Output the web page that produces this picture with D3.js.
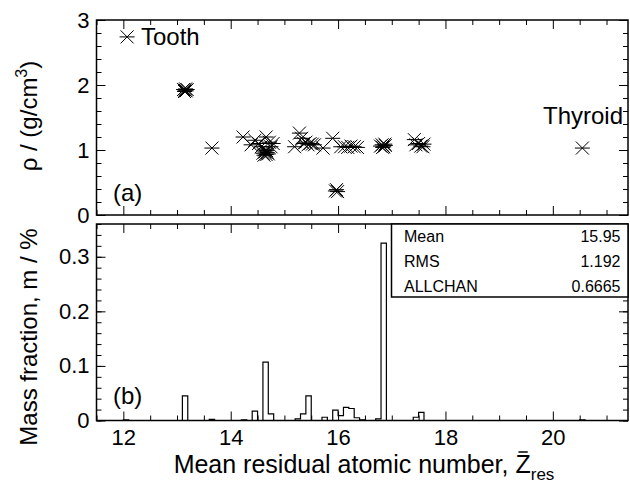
<!DOCTYPE html>
<html>
<head>
<meta charset="utf-8">
<script src="https://cdn.jsdelivr.net/npm/d3@7"></script>
<style>
  body { margin: 0; background: #fff; }
  text { font-family: "Liberation Sans", Arial, sans-serif; fill: #000; }
</style>
</head>
<body>
<svg id="chart" width="630" height="492"></svg>
<script>
// scatter (a): mean residual Z vs density
var zPoints = [12.07, 13.12, 13.15, 13.17, 13.19, 13.14, 13.16, 13.65,
  14.23, 14.38, 14.45, 14.52, 14.57, 14.60, 14.62, 14.64, 14.66, 14.68, 14.70, 14.63, 14.67,
  14.66, 14.72, 14.79, 14.75, 15.19, 15.28, 15.32, 15.36, 15.40, 15.44, 15.48, 15.52, 15.56,
  15.72, 15.90, 15.95, 15.97, 15.99, 16.05, 16.12, 16.18, 16.24, 16.30, 16.36,
  16.79, 16.82, 16.85, 16.88, 16.83, 16.87, 17.42, 17.45, 17.50, 17.54, 17.58, 17.60, 20.55]
var rhoPoints = [2.74, 1.93, 1.92, 1.91, 1.93, 1.90, 1.94, 1.03,
  1.20, 1.08, 1.15, 1.10, 1.05, 0.95, 0.92, 0.97, 0.93, 0.96, 0.94, 1.00, 0.99,
  1.20, 1.12, 1.10, 1.05, 1.05, 1.26, 1.18, 1.10, 1.12, 1.08, 1.10, 1.09, 1.08,
  1.03, 1.18, 0.37, 0.39, 0.36, 1.05, 1.05, 1.04, 1.06, 1.05, 1.04,
  1.06, 1.08, 1.05, 1.07, 1.04, 1.09, 1.16, 1.08, 1.10, 1.06, 1.05, 1.09, 1.03]

// histogram (b): bin low edges (width 0.1) and mass fraction
var binLow = [12.0, 13.1, 13.6, 14.2, 14.4, 14.6, 14.7, 15.2, 15.3, 15.4, 15.7, 15.9,
  16.0, 16.1, 16.2, 16.3, 16.4, 16.7, 16.8, 17.4, 17.5, 20.5]
var massFrac = [0.001, 0.045, 0.002, 0.001, 0.017, 0.107, 0.012, 0.003, 0.012, 0.045, 0.006, 0.019,
  0.009, 0.024, 0.022, 0.005, 0.001, 0.003, 0.325, 0.006, 0.015, 0.001]
var binWidth = 0.1

var statNames = ["Mean", "RMS", "ALLCHAN"]
var statValues = ["15.95", "1.192", "0.6665"]

var xMajor = [12, 14, 16, 18, 20]
var rhoMajor = [0, 1, 2, 3]
var fracMajor = [0, 0.1, 0.2, 0.3]

var svg = d3.select("#chart")
var L = 96.5, R = 628

var x = d3.scaleLinear().domain([11.5, 21.4]).range([L, R])
var yTop = d3.scaleLinear().domain([0, 3]).range([215, 20])
var yBot = d3.scaleLinear().domain([0, 0.36]).range([420.5, 224])

var xMinor = d3.range(11.5, 21.41, 0.5).filter(function(d){ return xMajor.indexOf(Math.round(d*10)/10) < 0 })
var rhoMinor = d3.range(0, 3.01, 0.2)
var fracMinor = d3.range(0, 0.361, 0.02)

function xTicks(y, labels) {
  var top = y.range()[1], bot = y.range()[0]
  var g = svg.append("g")
  g.append("g").attr("transform", "translate(0," + bot + ")")
    .call(d3.axisBottom(x).tickValues(xMajor).tickSize(-9).tickPadding(9)
      .tickFormat(labels ? d3.format("d") : ""))
  g.append("g").attr("transform", "translate(0," + bot + ")")
    .call(d3.axisBottom(x).tickValues(xMinor).tickSize(-5).tickFormat(""))
  g.append("g").attr("transform", "translate(0," + top + ")")
    .call(d3.axisTop(x).tickValues(xMajor).tickSize(-9).tickFormat(""))
  g.append("g").attr("transform", "translate(0," + top + ")")
    .call(d3.axisTop(x).tickValues(xMinor).tickSize(-5).tickFormat(""))
  g.selectAll(".domain").remove()
  g.selectAll("line").attr("stroke", "#000")
  g.selectAll("text").style("font-size", "22px").style("font-family", "Liberation Sans, Arial, sans-serif")
}

function yTicks(y, major, minor, fmt) {
  var g = svg.append("g")
  g.append("g").attr("transform", "translate(" + L + ",0)")
    .call(d3.axisLeft(y).tickValues(major).tickSize(-9).tickPadding(7).tickFormat(fmt))
  g.append("g").attr("transform", "translate(" + L + ",0)")
    .call(d3.axisLeft(y).tickValues(minor).tickSize(-5).tickFormat(""))
  g.append("g").attr("transform", "translate(" + R + ",0)")
    .call(d3.axisRight(y).tickValues(major).tickSize(-9).tickFormat(""))
  g.append("g").attr("transform", "translate(" + R + ",0)")
    .call(d3.axisRight(y).tickValues(minor).tickSize(-5).tickFormat(""))
  g.selectAll(".domain").remove()
  g.selectAll("line").attr("stroke", "#000")
  g.selectAll("text").style("font-size", "22px").style("font-family", "Liberation Sans, Arial, sans-serif")
}

// ---- panel (a)
xTicks(yTop, false)
yTicks(yTop, rhoMajor, rhoMinor, d3.format("d"))

var star = "M-7.5,0H7.5M-6.5,-6.5L6.5,6.5M-6.5,6.5L6.5,-6.5"
svg.append("g").selectAll("path").data(zPoints).enter().append("path")
  .attr("d", star)
  .attr("transform", function(d, i){ return "translate(" + x(d) + "," + yTop(rhoPoints[i]) + ")" })
  .attr("fill", "none").attr("stroke", "#000").attr("stroke-width", 1)

svg.append("text").attr("x", 141).attr("y", 45).style("font-size", "24px").text("Tooth")
svg.append("text").attr("x", 623).attr("y", 124).attr("text-anchor", "end").style("font-size", "24px").text("Thyroid")
svg.append("text").attr("x", 113).attr("y", 201).style("font-size", "24px").text("(a)")

svg.append("rect").attr("x", L).attr("y", 20).attr("width", R - L).attr("height", 195)
  .attr("fill", "none").attr("stroke", "#000").attr("stroke-width", 1.5)

// ---- panel (b)
xTicks(yBot, true)
yTicks(yBot, fracMajor, fracMinor, function(d){ return d === 0 ? "0" : d3.format(".1f")(d) })

// full 0.1-wide binning across the axis, filled from the listed bins
var nb = Math.round((21.4 - 11.5) / binWidth)
var allBins = d3.range(nb).map(function(i){
  var lo = Math.round((11.5 + i * binWidth) * 10) / 10
  var k = binLow.findIndex(function(b){ return Math.abs(b - lo) < 1e-6 })
  return { lo: lo, v: k < 0 ? 0 : massFrac[k] }
})
var p = "M" + x(11.5) + "," + yBot(0)
allBins.forEach(function(b){
  p += "V" + yBot(b.v) + "H" + x(b.lo + binWidth)
})
p += "V" + yBot(0)
svg.append("path").attr("d", p).attr("fill", "none").attr("stroke", "#000").attr("stroke-width", 1.2)

svg.append("text").attr("x", 113).attr("y", 404).style("font-size", "24px").text("(b)")

svg.append("rect").attr("x", L).attr("y", 224).attr("width", R - L).attr("height", 196.5)
  .attr("fill", "none").attr("stroke", "#000").attr("stroke-width", 1.5)

// stats box
var sb = svg.append("g")
sb.append("rect").attr("x", 391.5).attr("y", 224).attr("width", R - 391.5).attr("height", 73)
  .attr("fill", "#fff").attr("stroke", "#000").attr("stroke-width", 1.5)
statNames.forEach(function(n, i){
  sb.append("text").attr("x", 404).attr("y", 242 + i * 25).style("font-size", "16px").text(n)
  sb.append("text").attr("x", 620.5).attr("y", 242 + i * 25).attr("text-anchor", "end").style("font-size", "16px").text(statValues[i])
})

// axis titles
svg.append("text").attr("transform", "translate(37,116) rotate(-90)").attr("text-anchor", "middle")
  .style("font-size", "24px")
  .html('ρ / (g/cm<tspan dy="-10" font-size="16px">3</tspan><tspan dy="10">)</tspan>')
svg.append("text").attr("transform", "translate(37,337) rotate(-90)").attr("text-anchor", "middle")
  .style("font-size", "24px").text("Mass fraction, m / %")

var xLabel = "Mean residual atomic number, Z"
var xt = svg.append("text").attr("x", 364).attr("y", 473).attr("text-anchor", "middle").style("font-size", "25px")
xt.append("tspan").text(xLabel)
xt.append("tspan").attr("dy", 7).style("font-size", "17px").text("res")
// bar over the Z
var zi = xLabel.length - 1
var z0 = xt.node().getStartPositionOfChar(zi), z1 = xt.node().getEndPositionOfChar(zi)
svg.append("line").attr("x1", z0.x + 3).attr("x2", z1.x - 3).attr("y1", 473 - 21).attr("y2", 473 - 21)
  .attr("stroke", "#000").attr("stroke-width", 1.5)
</script>
</body>
</html>
